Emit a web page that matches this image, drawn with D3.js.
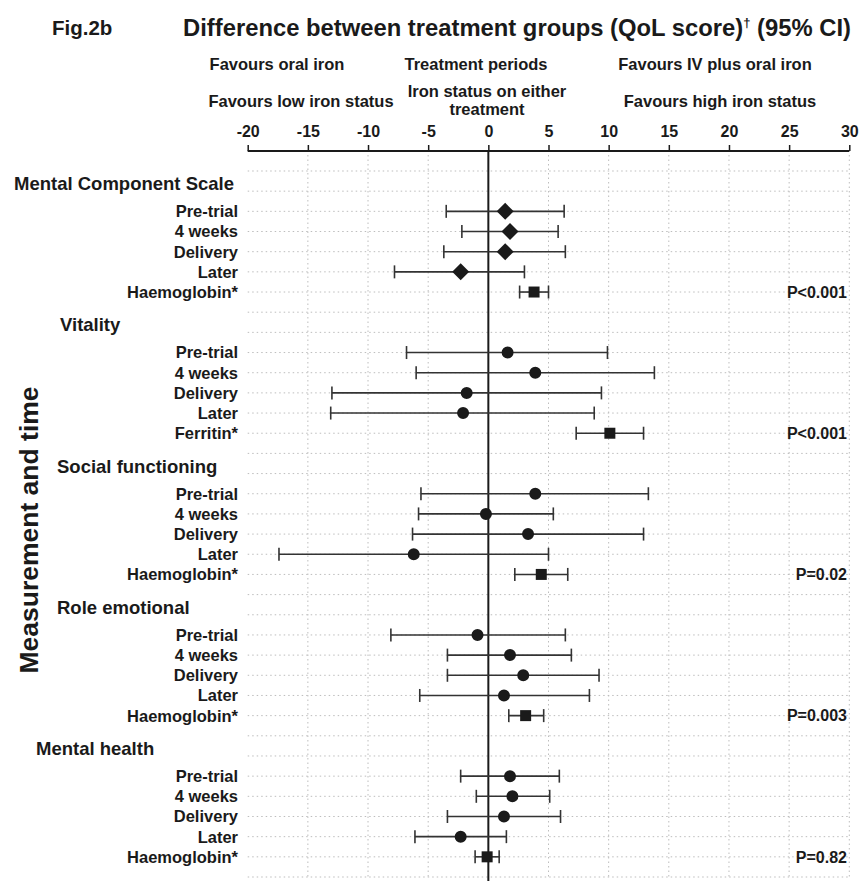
<!DOCTYPE html>
<html><head><meta charset="utf-8">
<script src="https://cdn.jsdelivr.net/npm/d3@7"></script>
<style>body{margin:0;background:#fff}svg{display:block}text{font-family:"Liberation Sans",Arial,sans-serif;font-weight:bold;fill:#1a1a1a}</style>
</head><body><svg id="c" width="867" height="883"></svg>
<script>
// ---- data ----
const groups = ["Mental Component Scale","Vitality","Social functioning","Role emotional","Mental health"];
const itemLabels = [
  ["Pre-trial","4 weeks","Delivery","Later","Haemoglobin*"],
  ["Pre-trial","4 weeks","Delivery","Later","Ferritin*"],
  ["Pre-trial","4 weeks","Delivery","Later","Haemoglobin*"],
  ["Pre-trial","4 weeks","Delivery","Later","Haemoglobin*"],
  ["Pre-trial","4 weeks","Delivery","Later","Haemoglobin*"]
];
const estimates = [
  [1.4, 1.8, 1.4, -2.3, 3.8],
  [1.6, 3.9, -1.8, -2.1, 10.1],
  [3.9, -0.2, 3.3, -6.2, 4.4],
  [-0.9, 1.8, 2.9, 1.3, 3.1],
  [1.8, 2.0, 1.3, -2.3, -0.1]
];
const lowerCI = [
  [-3.5, -2.2, -3.7, -7.8, 2.6],
  [-6.8, -6.0, -13.0, -13.1, 7.3],
  [-5.6, -5.8, -6.3, -17.4, 2.2],
  [-8.1, -3.4, -3.4, -5.7, 1.7],
  [-2.3, -1.0, -3.4, -6.1, -1.1]
];
const upperCI = [
  [6.3, 5.8, 6.4, 3.0, 5.0],
  [9.9, 13.8, 9.4, 8.8, 12.9],
  [13.3, 5.4, 12.9, 5.0, 6.6],
  [6.4, 6.9, 9.2, 8.4, 4.6],
  [5.9, 5.1, 6.0, 1.5, 0.9]
];
const periodMarker = ["diamond","circle","circle","circle","circle"];
const ironMarker = "square";
const pValues = ["P<0.001","P<0.001","P=0.02","P=0.003","P=0.82"];
const xTicks = [-20,-15,-10,-5,0,5,10,15,20,25,30];

// ---- layout ----
const headingX = [14, 60, 57, 57, 36];
const rowsPerGroup = 7;
const nRows = groups.length * rowsPerGroup + 1;

const svg = d3.select("#c");
const x = d3.scaleLinear().domain([-20, 30]).range([247.7, 849.3]);
const y = d3.scaleLinear().domain([0, nRows - 1]).range([171, 877]);

// titles
svg.append("text").attr("x", 52).attr("y", 35).attr("font-size", 20.5).text("Fig.2b");
const t = svg.append("text").attr("x", 183).attr("y", 36).attr("font-size", 23.8);
t.append("tspan").text("Difference between treatment groups (QoL score)");
t.append("tspan").attr("font-size", 13).attr("dy", -9).text("\u2020");
t.append("tspan").attr("dy", 9).text(" (95% CI)");

const sub = [
  {t:"Favours oral iron", x:277, y:70},
  {t:"Treatment periods", x:476, y:70},
  {t:"Favours IV plus oral iron", x:715, y:70},
  {t:"Favours low iron status", x:301, y:107},
  {t:"Iron status on either", x:487, y:97},
  {t:"treatment", x:487, y:115},
  {t:"Favours high iron status", x:720, y:107}
];
svg.selectAll(".sub").data(sub).enter().append("text")
  .attr("x", d => d.x).attr("y", d => d.y).attr("text-anchor","middle")
  .attr("font-size", 16.5).text(d => d.t);

// y-axis title
svg.append("text").attr("transform", "translate(38,530) rotate(-90)")
  .attr("text-anchor","middle").attr("font-size", 26.5).text("Measurement and time");

// grid
const grid = svg.append("g");
grid.selectAll(".hg").data(d3.range(nRows)).enter().append("line")
  .attr("x1", x(-20)).attr("x2", x(30)).attr("y1", d => y(d)).attr("y2", d => y(d))
  .attr("stroke", "#bdbdbd").attr("stroke-width", 1).attr("stroke-dasharray", "1.5,3");
grid.selectAll(".vg").data(xTicks.filter(v => v !== 0 && v !== -20)).enter().append("line")
  .attr("x1", d => x(d)).attr("x2", d => x(d)).attr("y1", 155).attr("y2", 878)
  .attr("stroke", "#bdbdbd").attr("stroke-width", 1).attr("stroke-dasharray", "1.5,3");

// axis
const axis = d3.axisTop(x).tickValues(xTicks).tickSize(6).tickPadding(8).tickFormat(d => String(d));
const ag = svg.append("g").attr("transform", "translate(0,151)").call(axis);
ag.select(".domain").attr("stroke", "#1a1a1a").attr("stroke-width", 2).attr("d", `M${x(-20)},0H${x(30)}`);
ag.selectAll(".tick line").attr("stroke", "#1a1a1a").attr("stroke-width", 1.5);
ag.selectAll(".tick text").attr("font-size", 16).attr("font-family", "Liberation Sans, Arial, sans-serif")
  .attr("font-weight", "bold").attr("fill", "#1a1a1a");

// zero line
svg.append("line").attr("x1", x(0)).attr("x2", x(0)).attr("y1", 151).attr("y2", 881)
  .attr("stroke", "#1a1a1a").attr("stroke-width", 2);

// rows
const rows = [];
groups.forEach((g, gi) => {
  const base = 1 + gi * rowsPerGroup;
  itemLabels[gi].forEach((lab, ii) => {
    rows.push({gi, ii, lab, row: base + 1 + ii, est: estimates[gi][ii], lo: lowerCI[gi][ii], hi: upperCI[gi][ii],
      shape: ii === 4 ? ironMarker : periodMarker[gi]});
  });
});

svg.selectAll(".head").data(groups).enter().append("text")
  .attr("x", (d, i) => headingX[i]).attr("y", (d, i) => y(1 + i * rowsPerGroup) - 1)
  .attr("font-size", 18.5).text(d => d);

svg.selectAll(".lab").data(rows).enter().append("text")
  .attr("x", 238).attr("y", d => y(d.row)).attr("dy", "0.36em").attr("text-anchor", "end")
  .attr("font-size", 16.5).text(d => d.lab);

const eb = svg.append("g");
eb.selectAll(".bar").data(rows).enter().append("line")
  .attr("x1", d => x(d.lo)).attr("x2", d => x(d.hi)).attr("y1", d => y(d.row)).attr("y2", d => y(d.row))
  .attr("stroke", "#333").attr("stroke-width", 1.6);
["lo","hi"].forEach(k => {
  eb.selectAll(".cap" + k).data(rows).enter().append("line")
    .attr("x1", d => x(d[k])).attr("x2", d => x(d[k]))
    .attr("y1", d => y(d.row) - 6.5).attr("y2", d => y(d.row) + 6.5)
    .attr("stroke", "#333").attr("stroke-width", 1.6);
});

const diamondPath = "M0,-8.5L8.5,0L0,8.5L-8.5,0Z";
const markerPath = {
  diamond: diamondPath,
  circle: d3.symbol().type(d3.symbolCircle).size(113)(),
  square: d3.symbol().type(d3.symbolSquare).size(121)()
};
svg.selectAll(".pt").data(rows).enter().append("path")
  .attr("transform", d => `translate(${x(d.est)},${y(d.row)})`)
  .attr("d", d => markerPath[d.shape])
  .attr("fill", "#1a1a1a");

svg.selectAll(".pv").data(pValues).enter().append("text")
  .attr("x", 847).attr("y", (d, i) => y(1 + i * rowsPerGroup + 5)).attr("dy", "0.36em")
  .attr("text-anchor", "end").attr("font-size", 16).text(d => d);
</script></body></html>
